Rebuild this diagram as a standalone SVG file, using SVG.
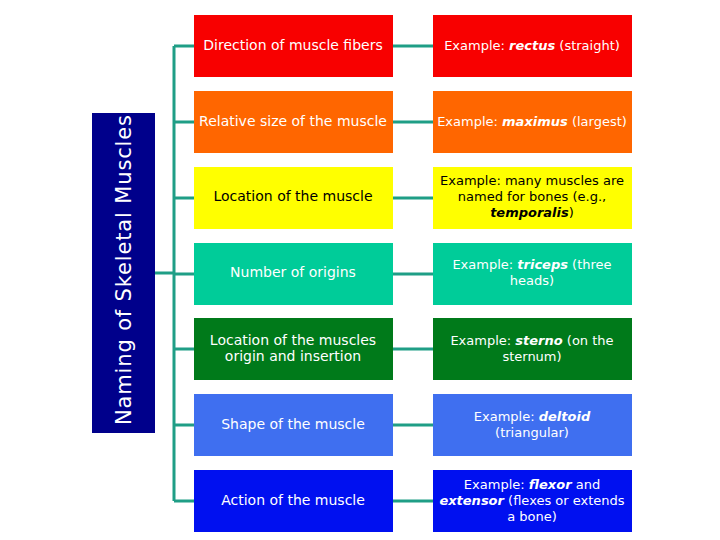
<svg xmlns="http://www.w3.org/2000/svg" width="720" height="540" viewBox="0 0 720 540">
<style>
.t{font-family:"DejaVu Sans","Liberation Sans",sans-serif;font-size:13px;fill:#fff;text-anchor:middle}
.l{font-size:14px}
.k{fill:#000}
.i{font-style:italic;font-weight:bold}
.c{stroke:#1f9e86;stroke-width:3;fill:none}
</style>
<rect width="720" height="540" fill="#fff"/>
<g id="connectors">
<path class="c" d="M155 273H174M174 46V501M174 46H194M174 122H194M174 198H194M174 274H194M174 349H194M174 425H194M174 501H194"/>
<path class="c" d="M393 46H433M393 122H433M393 198H433M393 274H433M393 349H433M393 425H433M393 501H433"/>
</g>
<g id="title">
<rect x="92" y="113" width="63" height="320" fill="#00008b"/>
<text transform="translate(131,270) rotate(-90)" font-family="DejaVu Sans, Liberation Sans, sans-serif" font-size="21" fill="#fff" text-anchor="middle" textLength="310" lengthAdjust="spacing">Naming of Skeletal Muscles</text>
</g>
<g id="n1">
<rect x="194" y="15" width="199" height="62" fill="#f80000"/>
<text class="t l" x="293" y="50">Direction of muscle fibers</text>
</g>
<g id="e1">
<rect x="433" y="15" width="199" height="62" fill="#f80000"/>
<text class="t" x="532" y="50">Example: <tspan class="i">rectus</tspan> (straight)</text>
</g>
<g id="n2">
<rect x="194" y="91" width="199" height="62" fill="#ff6600"/>
<text class="t l" x="293" y="126">Relative size of the muscle</text>
</g>
<g id="e2">
<rect x="433" y="91" width="199" height="62" fill="#ff6600"/>
<text class="t" x="532" y="126">Example: <tspan class="i">maximus</tspan> (largest)</text>
</g>
<g id="n3">
<rect x="194" y="167" width="199" height="62" fill="#ffff00"/>
<text class="t l k" x="293" y="201">Location of the muscle</text>
</g>
<g id="e3">
<rect x="433" y="167" width="199" height="62" fill="#ffff00"/>
<text class="t k" x="532" y="185">Example: many muscles are</text>
<text class="t k" x="532" y="201">named for bones (e.g.,</text>
<text class="t k" x="532" y="217"><tspan class="i">temporalis</tspan>)</text>
</g>
<g id="n4">
<rect x="194" y="243" width="199" height="62" fill="#00cc99"/>
<text class="t l" x="293" y="277">Number of origins</text>
</g>
<g id="e4">
<rect x="433" y="243" width="199" height="62" fill="#00cc99"/>
<text class="t" x="532" y="269">Example: <tspan class="i">triceps</tspan> (three</text>
<text class="t" x="532" y="285">heads)</text>
</g>
<g id="n5">
<rect x="194" y="318" width="199" height="62" fill="#007a1a"/>
<text class="t l" x="293" y="345">Location of the muscles</text>
<text class="t l" x="293" y="361">origin and insertion</text>
</g>
<g id="e5">
<rect x="433" y="318" width="199" height="62" fill="#007a1a"/>
<text class="t" x="532" y="345">Example: <tspan class="i">sterno</tspan> (on the</text>
<text class="t" x="532" y="361">sternum)</text>
</g>
<g id="n6">
<rect x="194" y="394" width="199" height="62" fill="#3f6ff0"/>
<text class="t l" x="293" y="429">Shape of the muscle</text>
</g>
<g id="e6">
<rect x="433" y="394" width="199" height="62" fill="#3f6ff0"/>
<text class="t" x="532" y="421">Example: <tspan class="i">deltoid</tspan></text>
<text class="t" x="532" y="437">(triangular)</text>
</g>
<g id="n7">
<rect x="194" y="470" width="199" height="62" fill="#0010f0"/>
<text class="t l" x="293" y="505">Action of the muscle</text>
</g>
<g id="e7">
<rect x="433" y="470" width="199" height="62" fill="#0010f0"/>
<text class="t" x="532" y="489">Example: <tspan class="i">flexor</tspan> and</text>
<text class="t" x="532" y="505"><tspan class="i">extensor</tspan> (flexes or extends</text>
<text class="t" x="532" y="521">a bone)</text>
</g>
</svg>
